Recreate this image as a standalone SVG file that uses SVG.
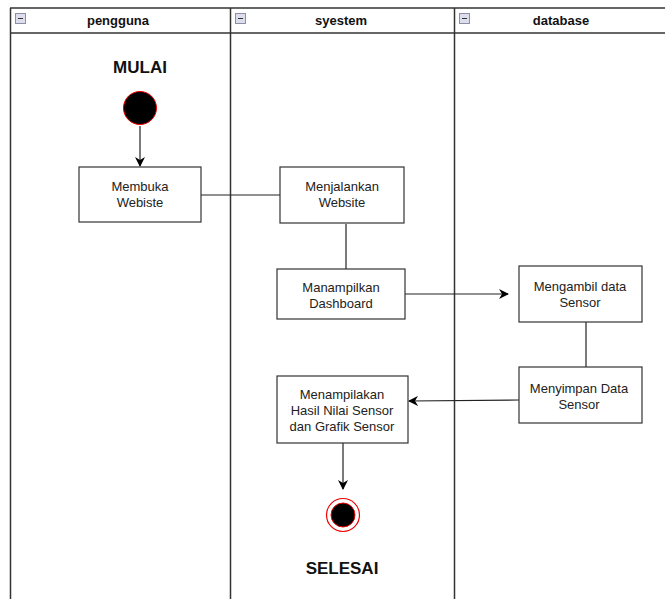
<svg xmlns="http://www.w3.org/2000/svg" width="665" height="599" viewBox="0 0 665 599">
<style>
.lane{fill:none;stroke:#333;stroke-width:1.5}
.hdr{font-family:"Liberation Sans",Arial,sans-serif;font-size:13px;font-weight:bold;fill:#111;text-anchor:middle}
.box{fill:#fff;stroke:#333;stroke-width:1.2}
.t{font-family:"Liberation Sans",Arial,sans-serif;font-size:13px;fill:#222;text-anchor:middle}
.big{font-family:"Liberation Sans",Arial,sans-serif;font-size:17px;font-weight:bold;fill:#111;text-anchor:middle}
.ln{fill:none;stroke:#222;stroke-width:1.2}
.icon{fill:#dde;stroke:#8a8fa8;stroke-width:1}
</style>
<defs>
<marker id="arr" viewBox="0 0 10 10" refX="9" refY="5" markerWidth="10" markerHeight="10" markerUnits="userSpaceOnUse" orient="auto">
<path d="M0,0 L10,5 L0,10 L3,5 z" fill="#000"/>
</marker>
</defs>
<rect width="665" height="599" fill="#fff"/>
<g id="lanes">
<line x1="10" y1="8" x2="665" y2="8" class="lane" stroke-width="2"/>
<line x1="10" y1="33" x2="665" y2="33" class="lane" stroke="#777"/>
<line x1="10.5" y1="8" x2="10.5" y2="599" class="lane"/>
<line x1="230.5" y1="8" x2="230.5" y2="599" class="lane"/>
<line x1="454.5" y1="8" x2="454.5" y2="599" class="lane"/>
<g id="lane-pengguna"><rect x="15.5" y="13.5" width="10" height="10" class="icon"/><line x1="18" y1="18.5" x2="23" y2="18.5" stroke="#333"/><text x="118" y="25" class="hdr">pengguna</text></g>
<g id="lane-syestem"><rect x="235.5" y="13.5" width="10" height="10" class="icon"/><line x1="238" y1="18.5" x2="243" y2="18.5" stroke="#333"/><text x="341" y="25" class="hdr">syestem</text></g>
<g id="lane-database"><rect x="459.5" y="13.5" width="10" height="10" class="icon"/><line x1="462" y1="18.5" x2="467" y2="18.5" stroke="#333"/><text x="561" y="25" class="hdr">database</text></g>
</g>
<g id="connectors">
<line x1="140" y1="126" x2="140" y2="166" class="ln" marker-end="url(#arr)"/>
<line x1="201" y1="195" x2="280" y2="195" class="ln"/>
<line x1="346" y1="224" x2="346" y2="269" class="ln"/>
<line x1="405" y1="294" x2="508" y2="294" class="ln" marker-end="url(#arr)"/>
<line x1="586" y1="322" x2="586" y2="367" class="ln"/>
<line x1="519" y1="400" x2="409" y2="401" class="ln" marker-end="url(#arr)"/>
<line x1="343" y1="443" x2="343" y2="489" class="ln" marker-end="url(#arr)"/>
</g>
<g id="start">
<text x="140" y="73" class="big">MULAI</text>
<circle cx="140" cy="108" r="16.5" fill="#000" stroke="#e00" stroke-width="1"/>
</g>
<g id="membuka"><rect x="79" y="167" width="122" height="55" class="box"/><text x="140" y="191" class="t">Membuka</text><text x="140" y="207" class="t">Webiste</text></g>
<g id="menjalankan"><rect x="280" y="167" width="124" height="56" class="box"/><text x="342" y="191" class="t">Menjalankan</text><text x="342" y="207" class="t">Website</text></g>
<g id="dashboard"><rect x="277" y="269" width="128" height="50" class="box"/><text x="341" y="292" class="t">Manampilkan</text><text x="341" y="308" class="t">Dashboard</text></g>
<g id="mengambil"><rect x="519" y="266" width="123" height="56" class="box"/><text x="580" y="291" class="t">Mengambil data</text><text x="580" y="307" class="t">Sensor</text></g>
<g id="menyimpan"><rect x="519" y="367" width="123" height="56" class="box"/><text x="579" y="393" class="t">Menyimpan Data</text><text x="579" y="409" class="t">Sensor</text></g>
<g id="menampilakan"><rect x="277" y="376" width="131" height="67" class="box"/><text x="342" y="399" class="t">Menampilakan</text><text x="342" y="415" class="t">Hasil Nilai Sensor</text><text x="342" y="431" class="t">dan Grafik Sensor</text></g>
<g id="end">
<circle cx="343" cy="515" r="16.5" fill="#fff" stroke="#e00" stroke-width="1.2"/>
<circle cx="343" cy="515" r="12" fill="#000" stroke="#e00" stroke-width="1"/>
<text x="342" y="574" class="big">SELESAI</text>
</g>
</svg>
